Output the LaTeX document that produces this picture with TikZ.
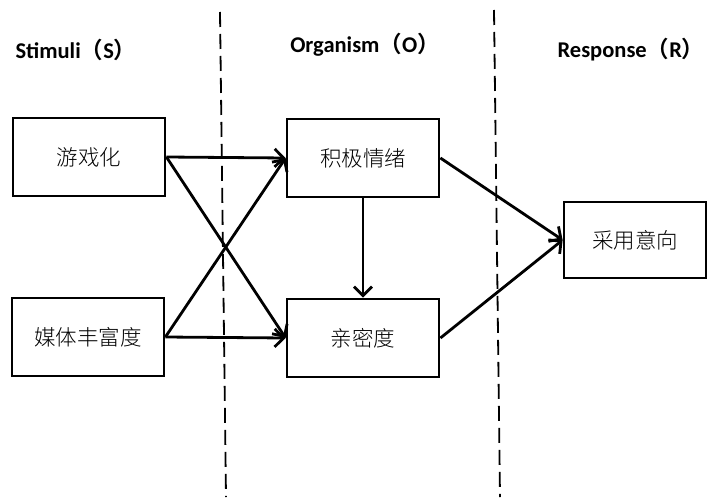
\documentclass[tikz,border=0pt]{standalone}
\usepackage{fontspec}
\setmainfont{Carlito}
\newfontfamily\cjk{Noto Sans CJK SC}[UprightFont=* Light]
\usetikzlibrary{arrows.meta}

\tikzset{
  factor/.style={draw,line width=2.8pt,minimum width=152pt,minimum height=78pt,inner sep=0pt,font=\cjk\fontsize{21.5}{25}\selectfont},
  stage/.style={font=\fontsize{22.5}{27}\selectfont\bfseries},
  link/.style={-{Straight Barb[length=9pt,width=18pt,line width=2.8pt]},line width=2.8pt},
  divider/.style={line width=1.8pt,dash pattern=on 15pt off 7pt}
}

\begin{document}
\begin{tikzpicture}[x=1pt,y=-1pt]
  \useasboundingbox (0,0) rectangle (708,497);
  % stage titles
  \node[stage] (S) at (76,50) {Stimuli{\cjk（}S{\cjk）}};
  \node[stage] (O) at (365,45) {Organism{\cjk（}O{\cjk）}};
  \node[stage] (R) at (631,50) {Response{\cjk（}R{\cjk）}};
  % dividers
  \coordinate (d1a) at (220,12);  \coordinate (d1b) at (226,497);
  \coordinate (d2a) at (494,10);  \coordinate (d2b) at (500,497);
  \draw[divider] (d1a) -- (d1b);
  \draw[divider] (d2a) -- (d2b);
  % boxes
  \node[factor] (game) at (89,157) {游戏化};
  \node[factor] (media) at (88,337) {媒体丰富度};
  \node[factor] (emo) at (363,158) {积极情绪};
  \node[factor] (close) at (363,338) {亲密度};
  \node[factor,minimum width=142pt,minimum height=76pt] (adopt) at (635,240) {采用意向};
  % paths
  \foreach \from in {game,media}{
    \foreach \to in {emo,close}{
      \path (\from.east) edge[link] (\to.west);
    }
  }
  \path (emo) edge[link] (close);
  \path (emo.east) edge[link] (adopt.west);
  \path (close.east) edge[link] (adopt.west);
\end{tikzpicture}
\end{document}
